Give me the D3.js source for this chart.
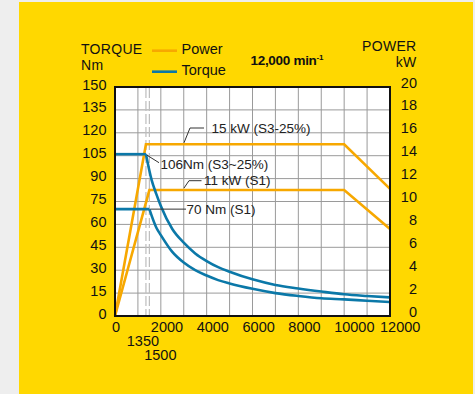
<!DOCTYPE html>
<html>
<head>
<meta charset="utf-8">
<script src="https://cdn.jsdelivr.net/npm/d3@7"></script>
<style>
  html, body { margin: 0; padding: 0; background: #eeeeee; }
  svg { display: block; font-family: "Liberation Sans", Arial, sans-serif; }
</style>
</head>
<body>
<svg id="chart" width="475" height="394"></svg>
<script>
// speed (min-1) and torque (Nm)
const rpmS3 = [0, 1350, 1600, 1800, 2000, 2500, 3000, 3500, 4000, 4500, 5000, 6000, 7000, 8000, 9000, 10000, 11000, 12000];
const torqueS3 = [106, 106, 89, 80, 72, 57, 48, 41, 36, 32, 29, 24, 20.3, 18, 16, 14.2, 13.1, 12.2];
const rpmS1 = [0, 1500, 1800, 2000, 2500, 3000, 3500, 4000, 4500, 5000, 6000, 7000, 8000, 9000, 10000, 11000, 12000];
const torqueS1 = [70, 70, 58, 53, 42, 35, 30, 26.5, 23.5, 21.3, 17.8, 15, 13.1, 11.6, 10.9, 10, 9.2];

// power (kW)
const rpmPower = [0, 1350, 10000, 12000];
const powerS3 = [0, 15, 15, 11.1];
const rpmPowerS1 = [0, 1500, 10000, 12000];
const powerS1 = [0, 11, 11, 7.6];

const xTicks = [0, 2000, 4000, 6000, 8000, 10000, 12000];
const torqueTicks = d3.range(0, 151, 15);
const powerTicks = d3.range(0, 21, 2);
const markSpeeds = [1350, 1500];

const yellow = "#ffd800", orange = "#f7a800", blue = "#0b78a8";

const svg = d3.select("#chart");
svg.append("rect").attr("x", 19).attr("y", 2).attr("width", 454).attr("height", 392).attr("fill", yellow);

const x = d3.scaleLinear().domain([0, 12000]).range([115, 390]);
const yT = d3.scaleLinear().domain([0, 150]).range([316, 87]);
const yP = d3.scaleLinear().domain([0, 20]).range([316, 87]);

// plot area
svg.append("rect").attr("x", 115).attr("y", 87).attr("width", 275).attr("height", 229).attr("fill", "#fff");

// grid
const grid = svg.append("g").attr("stroke", "#9a9a9a").attr("stroke-width", 1);
d3.range(1000, 12000, 1000).forEach(v => {
  grid.append("line").attr("x1", x(v)).attr("x2", x(v)).attr("y1", 87).attr("y2", 316);
});
torqueTicks.slice(1, -1).forEach(v => {
  grid.append("line").attr("x1", 115).attr("x2", 390).attr("y1", yT(v)).attr("y2", yT(v));
});

// dashed speed markers
markSpeeds.forEach(v => {
  svg.append("line").attr("x1", x(v)).attr("x2", x(v)).attr("y1", 88).attr("y2", 315)
    .attr("stroke", "#bdbdbd").attr("stroke-width", 1.2).attr("stroke-dasharray", "10,3");
});

// power lines
const linePow = d3.line().x(d => x(d[0])).y(d => yP(d[1]));
[[rpmPower, powerS3], [rpmPowerS1, powerS1]].forEach(([r, p]) => {
  svg.append("path").datum(d3.zip(r, p)).attr("d", linePow)
    .attr("fill", "none").attr("stroke", orange).attr("stroke-width", 2.6).attr("stroke-linejoin", "miter");
});

// torque lines: flat part straight, falling part smooth
const flat = d3.line().x(d => x(d[0])).y(d => yT(d[1]));
const fall = d3.line().x(d => x(d[0])).y(d => yT(d[1])).curve(d3.curveMonotoneX);
[[rpmS3, torqueS3], [rpmS1, torqueS1]].forEach(([r, t]) => {
  const pts = d3.zip(r, t);
  svg.append("path").datum(pts.slice(0, 2)).attr("d", flat)
    .attr("fill", "none").attr("stroke", blue).attr("stroke-width", 2.6);
  svg.append("path").datum(pts.slice(1)).attr("d", fall)
    .attr("fill", "none").attr("stroke", blue).attr("stroke-width", 2.6);
});

// frame
svg.append("rect").attr("x", 115).attr("y", 87).attr("width", 275).attr("height", 229)
  .attr("fill", "none").attr("stroke", "#111").attr("stroke-width", 2);

// annotations
const ann = svg.append("g").attr("font-size", 13.5).attr("fill", "#222");
const lead = (pts) => svg.append("path").attr("d", d3.line()(pts))
  .attr("fill", "none").attr("stroke", "#333").attr("stroke-width", 1);

let ax, ay = yP(15);
lead([[184, ay - 1.5], [190, 128], [204, 128]]);
ann.append("text").attr("x", 211.5).attr("y", 133).text("15 kW (S3-25%)");

ax = x(1350); ay = yT(106);
lead([[ax + 1, ay + 1], [159, 162.7]]);
ann.append("text").attr("x", 160.5).attr("y", 168.5).text("106Nm (S3~25%)");

ay = yP(11);
lead([[184, ay - 2], [189, 180.7], [201.5, 180.7]]);
ann.append("text").attr("x", 204).attr("y", 185.3).text("11 kW (S1)");

ax = x(1500); ay = yT(70);
lead([[ax + 1, ay], [186, ay]]);
ann.append("text").attr("x", 186.5).attr("y", 213.5).text("70 Nm (S1)");

// axes labels
const lab = svg.append("g").attr("font-size", 14.5).attr("fill", "#111");
torqueTicks.forEach(v => {
  lab.append("text").attr("x", 106.5).attr("y", yT(v) - 2.5).attr("dy", "0.35em")
    .attr("text-anchor", "end").text(v);
});
powerTicks.forEach(v => {
  lab.append("text").attr("x", 417).attr("y", yP(v) - 4.5).attr("dy", "0.35em")
    .attr("text-anchor", "end").text(v);
});
xTicks.forEach(v => {
  lab.append("text").attr("x", v === 0 ? x(v) + 1 : x(v) - 10).attr("y", 332)
    .attr("text-anchor", v === 0 ? "middle" : "start").text(v);
});
lab.append("text").attr("x", x(1350) - 3).attr("y", 346).attr("text-anchor", "middle").text(markSpeeds[0]);
lab.append("text").attr("x", x(1500) + 11).attr("y", 359.5).attr("text-anchor", "middle").text(markSpeeds[1]);

const head = svg.append("g").attr("font-size", 14).attr("letter-spacing", 0.3).attr("fill", "#111");
head.append("text").attr("x", 81).attr("y", 53.5).text("TORQUE");
head.append("text").attr("x", 81).attr("y", 69.5).text("Nm");
head.append("text").attr("x", 416.5).attr("y", 51).attr("text-anchor", "end").text("POWER");
head.append("text").attr("x", 416.5).attr("y", 67).attr("text-anchor", "end").text("kW");

// legend
[["Power", orange, 50.7], ["Torque", blue, 71.7]].forEach(([name, c, yy]) => {
  svg.append("line").attr("x1", 152).attr("x2", 177).attr("y1", yy).attr("y2", yy)
    .attr("stroke", c).attr("stroke-width", 2.6);
  lab.append("text").attr("x", 181.5).attr("y", yy + 3.5).text(name);
});

// title
const t = svg.append("text").attr("x", 250.5).attr("y", 65).attr("font-size", 13.5)
  .attr("font-weight", "bold").attr("letter-spacing", -0.3).attr("fill", "#111");
t.append("tspan").text("12,000 min");
t.append("tspan").attr("font-size", 8).attr("dy", -5).text("-1");
</script>
</body>
</html>
